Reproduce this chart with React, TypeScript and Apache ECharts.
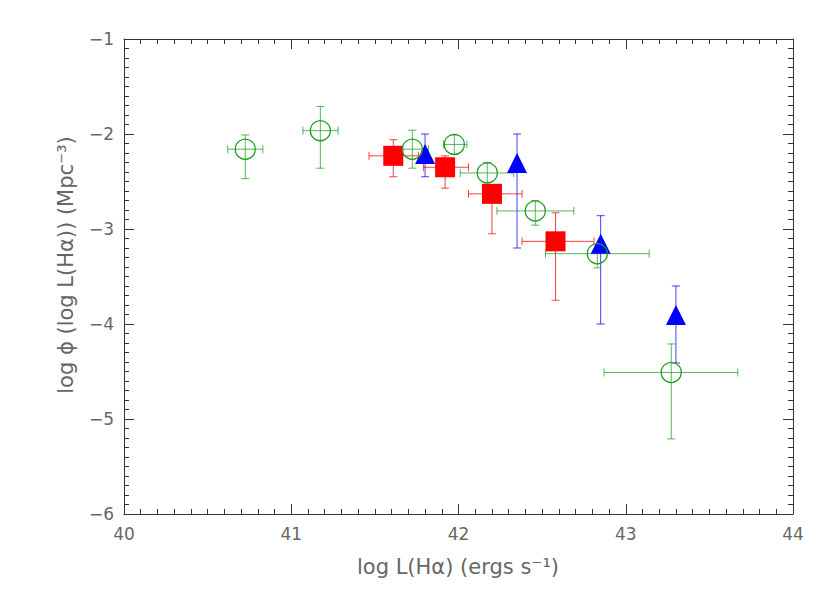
import React, { useEffect, useRef } from "react";
import * as echarts from "echarts";

// Green open circles
const greenX = [40.725, 41.174, 41.724, 41.975, 42.172, 42.459, 42.83, 43.272];
const greenY = [-2.16, -1.965, -2.16, -2.11, -2.41, -2.81, -3.26, -4.51];
const greenXLo = [40.62, 41.07, 41.62, 41.91, 42.01, 42.23, 42.52, 42.87];
const greenXHi = [40.83, 41.28, 41.82, 42.05, 42.33, 42.69, 43.14, 43.67];
const greenYLo = [-2.47, -2.36, -2.36, -2.21, -2.51, -2.96, -3.41, -5.21];
const greenYHi = [-2.01, -1.71, -1.96, -2.01, -2.3, -2.7, -3.16, -4.21];

// Red filled squares
const redX = [41.61, 41.92, 42.2, 42.58];
const redY = [-2.23, -2.35, -2.63, -3.13];
const redXLo = [41.465, 41.79, 42.06, 42.38];
const redXHi = [41.76, 42.06, 42.38, 42.81];
const redYLo = [-2.45, -2.57, -3.05, -3.75];
const redYHi = [-2.06, -2.23, -2.55, -2.83];

// Blue filled triangles (no x errors)
const blueX = [41.8, 42.35, 42.85, 43.3];
const blueY = [-2.21, -2.305, -3.155, -3.905];
const blueYLo = [-2.45, -3.2, -4.0, -4.41];
const blueYHi = [-2.0, -2.0, -2.86, -3.6];

const xTicks = [40, 41, 42, 43, 44];
const yTicks = [-6, -5, -4, -3, -2, -1];

const GREEN = "#1f9e1f";
const RED = "#ff0000";
const BLUE = "#0000ff";
const FONT = "DejaVu Sans";
const TEXT = "#666";

function errData(xs: number[], ys: number[], xlo: number[] | null, xhi: number[] | null, ylo: number[], yhi: number[]) {
  return xs.map((x, i) => [x, ys[i], xlo ? xlo[i] : x, xhi ? xhi[i] : x, ylo[i], yhi[i]]);
}

function errSeries(data: number[][], color: string) {
  return {
    type: "custom",
    data,
    encode: { x: 0, y: 1 },
    clip: false,
    silent: true,
    renderItem: (params: any, api: any) => {
      const x = api.value(0);
      const y = api.value(1);
      const xlo = api.value(2);
      const xhi = api.value(3);
      const ylo = api.value(4);
      const yhi = api.value(5);
      const cap = 4;
      const st = { stroke: color, lineWidth: 1, opacity: 0.75 };
      const children: any[] = [];
      if (xlo !== xhi) {
        const a = api.coord([xlo, y]);
        const b = api.coord([xhi, y]);
        children.push({ type: "line", shape: { x1: a[0], y1: a[1], x2: b[0], y2: b[1] }, style: st });
        children.push({ type: "line", shape: { x1: a[0], y1: a[1] - cap, x2: a[0], y2: a[1] + cap }, style: st });
        children.push({ type: "line", shape: { x1: b[0], y1: b[1] - cap, x2: b[0], y2: b[1] + cap }, style: st });
      }
      const c = api.coord([x, ylo]);
      const d = api.coord([x, yhi]);
      children.push({ type: "line", shape: { x1: c[0], y1: c[1], x2: d[0], y2: d[1] }, style: st });
      children.push({ type: "line", shape: { x1: c[0] - cap, y1: c[1], x2: c[0] + cap, y2: c[1] }, style: st });
      children.push({ type: "line", shape: { x1: d[0] - cap, y1: d[1], x2: d[0] + cap, y2: d[1] }, style: st });
      return { type: "group", children };
    },
  };
}

function axisBase(min: number, max: number) {
  return {
    type: "value",
    min,
    max,
    interval: 1,
    axisLine: { show: true, onZero: false, lineStyle: { color: "#333", width: 1 } },
    axisTick: { show: true, inside: true, length: 10, lineStyle: { color: "#333" } },
    minorTick: { show: true, splitNumber: 10, length: 5, lineStyle: { color: "#333" } },
    splitLine: { show: false },
    minorSplitLine: { show: false },
  };
}

export default function App() {
  const ref = useRef<HTMLDivElement>(null);
  useEffect(() => {
    if (!ref.current) return;
    const chart = echarts.init(ref.current, null, { renderer: "svg" });
    const fmtX = (v: number) => (xTicks.includes(v) ? String(v) : "");
    const fmtY = (v: number) => (yTicks.includes(v) ? (v < 0 ? "\u2212" + Math.abs(v) : String(v)) : "");
    chart.setOption({
      animation: false,
      backgroundColor: "#ffffff",
      grid: { left: 124, right: 37, top: 39, bottom: 79, containLabel: false },
      xAxis: [
        {
          ...axisBase(40, 44),
          position: "bottom",
          axisLabel: { show: true, color: TEXT, fontSize: 17, margin: 11, fontFamily: FONT, formatter: fmtX },
        },
        { ...axisBase(40, 44), position: "top", axisLabel: { show: false } },
      ],
      yAxis: [
        {
          ...axisBase(-6, -1),
          position: "left",
          axisLabel: { show: true, color: TEXT, fontSize: 17, margin: 10, fontFamily: FONT, formatter: fmtY },
        },
        { ...axisBase(-6, -1), position: "right", axisLabel: { show: false } },
      ],
      graphic: [
        {
          type: "text",
          x: 458,
          y: 567,
          style: {
            text: "log L(H\u03b1) (ergs s\u207b\u00b9)",
            fill: TEXT,
            font: `21px "${FONT}"`,
            textAlign: "center",
            textVerticalAlign: "middle",
          },
        },
        {
          type: "text",
          x: 66,
          y: 265,
          rotation: Math.PI / 2,
          style: {
            text: "log \u03d5 (log L(H\u03b1)) (Mpc\u207b\u00b3)",
            fill: TEXT,
            font: `21px "${FONT}"`,
            textAlign: "center",
            textVerticalAlign: "middle",
          },
        },
      ],
      series: [
        errSeries(errData(redX, redY, redXLo, redXHi, redYLo, redYHi), RED),
        {
          type: "scatter",
          data: redX.map((x, i) => [x, redY[i]]),
          symbol: "rect",
          symbolSize: 20,
          itemStyle: { color: RED, opacity: 1 },
          silent: true,
        },
        errSeries(errData(blueX, blueY, null, null, blueYLo, blueYHi), BLUE),
        {
          type: "scatter",
          data: blueX.map((x, i) => [x, blueY[i]]),
          symbol: "triangle",
          symbolSize: 20,
          itemStyle: { color: BLUE, opacity: 1 },
          silent: true,
        },
        errSeries(errData(greenX, greenY, greenXLo, greenXHi, greenYLo, greenYHi), GREEN),
        {
          type: "scatter",
          data: greenX.map((x, i) => [x, greenY[i]]),
          symbol: "circle",
          symbolSize: 20,
          itemStyle: { color: "rgba(0,0,0,0)", borderColor: GREEN, borderWidth: 1.3, opacity: 1 },
          silent: true,
        },
      ],
    });
    return () => chart.dispose();
  }, []);
  return (
    <div
      ref={ref}
      style={{ position: "fixed", left: 0, top: 0, width: 830, height: 593, background: "#fff" }}
    />
  );
}
